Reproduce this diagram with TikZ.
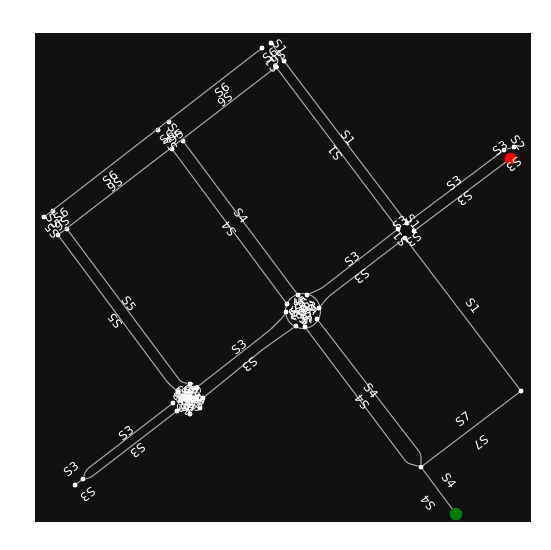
\documentclass[tikz,border=0pt]{standalone}
\usepackage{fontspec}
\setmainfont{DejaVu Sans}
\usetikzlibrary{calc}
\definecolor{bgdark}{HTML}{111111}
\definecolor{edgegray}{HTML}{A0A0A0}
\tikzset{
  dot/.style={circle,fill=white,inner sep=0pt,minimum size=5pt},
  road/.style={draw=edgegray,line width=1.1pt,rounded corners=3pt},
  lbl/.style={text=white,font=\fontsize{12}{12}\selectfont,inner sep=0pt},
  mark end/.style={circle,inner sep=0pt,minimum size=#1}
}
\begin{document}
\begin{tikzpicture}[x=1pt,y=-1pt]
            \useasboundingbox (0,0) rectangle (550,550);
            \fill[white] (0,0) rectangle (550,550);
            \fill[bgdark] (35,33) rectangle (531,522);
            % top
            \node[dot] (ta) at (262,48) {};
            \node[dot] (tb) at (271,43) {};
            \node[dot] (tc) at (284,61) {};
            \node[dot] (td) at (276,67) {};
            % second
            \node[dot] (ua) at (169,122) {};
            \node[dot] (ub) at (158,130) {};
            \node[dot] (uc) at (183,141) {};
            \node[dot] (ud) at (172,149) {};
            % left
            \node[dot] (la) at (53,211) {};
            \node[dot] (lb) at (44,217) {};
            \node[dot] (lc) at (67,229) {};
            \node[dot] (ld) at (58,235) {};
            % center
            \node[circle,draw=edgegray,line width=1.1pt,minimum size=35pt,inner sep=0pt] (cring) at (303,311) {};
            \node[dot] (ca) at (298,295) {};
            \node[dot] (cb) at (307,295) {};
            \node[dot] (cc) at (287,304) {};
            \node[dot] (cd) at (286,312) {};
            \node[dot] (ce) at (319,308) {};
            \node[dot] (cf) at (317,319) {};
            \node[dot] (cg) at (296,326) {};
            \node[dot] (ch) at (305,327) {};
            % lower left
            \node[dot] (pa) at (190,384) {};
            \node[dot] (pb) at (178,392) {};
            \node[dot] (pc) at (173,403) {};
            \node[dot] (pd) at (177,411) {};
            \node[dot] (pe) at (190,414) {};
            \node[dot] (pf) at (200,408) {};
            \node[dot] (pg) at (203,398) {};
            \node[dot] (ph) at (196,388) {};
            % right
            \node[dot] (ra) at (398,229) {};
            \node[dot] (rb) at (407,223) {};
            \node[dot] (rc) at (414,231) {};
            \node[dot] (rd) at (405,238) {};
            % ends
            \node[dot] (ea) at (504,150) {};
            \node[dot] (eb) at (514,147) {};
            \node[dot] (ec) at (521,391) {};
            \node[dot] (ed) at (421,467) {};
            \node[dot] (ee) at (83,479) {};
            \node[dot] (ef) at (75,485) {};
            \node[mark end=12pt,fill=red] (redend) at (510.5,158.5) {};
            \node[mark end=12.5pt,fill=green!50!black] (greenend) at (456,514) {};
            % edges
            \draw[road] (tb)--(tc);
            \draw[road] (ta)--(lb);
            \draw[road] (td)--(ld);
            \draw[road] (tc)--(rb);
            \draw[road] (td)--(ra);
            \draw[road] (rd)--(ec);
            \draw[road] (uc)--(ca);
            \draw[road] (ud)--(cc);
            \draw[road] (lc)--(181,382)--(pa);
            \draw[road] (ld)--(168,383)--(pb);
            \draw[road] (cd)--(283,317)--(270,330)--(ph);
            \draw[road] (cg)--(283,335)--(262,350)--(pg);
            \draw[road] (cb)--(322,288)--(ra);
            \draw[road] (ce)--(328,297)--(rd);
            \draw[road] (cf)--(421,454)--(ed);
            \draw[road] (ch)--(407,463)--(ed);
            \draw[road] (rb)--(ea);
            \draw[road] (rc)--(redend);
            \draw[road] (ea)--(eb);
            \draw[road] (ec)--(ed);
            \draw[road] (ed)--(greenend);
            \draw[road] (pc)--(86,470)--(ee);
            \draw[road] (pd)--(90,478)--(ee);
            \draw[road] (ee)--(ef);
            % edge labels
            \foreach \lx/\ly/\lr/\lt in {348/138/-53/S1,335/153/127/S1,473/306/-53/S1,
              222/90/37/S6,225/100/217/S6,110/178/37/S6,115/185/217/S6,
              241/216/-53/S4,229/229/127/S4,371/391/-53/S4,362/402/127/S4,449/481/-53/S4,428/503/127/S4,
              129/304/-53/S5,115/321/127/S5,
              454/183/37/S3,465/199/217/S3,352/259/37/S3,362/277/217/S3,239/347/37/S3,250/365/217/S3,
              126/433/37/S3,138/451/217/S3,71/469/37/S3,88/495/217/S3,500/148/37/S3,518/143/-53/S2,514/165/217/S3,
              463/419/37/S7,481/443/217/S7}
              \node[lbl,rotate=\lr] at (\lx,\ly) {\lt};
            % junction labels
            \foreach \lx/\ly/\lr/\lt in {280/47/-53/S1,270/55/37/S6,278/58/217/S6,272/65/127/S1,
              175/131/-53/S4,167/137/37/S6,176/137/217/S6,170/144/127/S4,
              61/215/37/S6,53/221/-53/S5,62/224/217/S6,52/231/127/S5,
              400/223/37/S3,413/222/-53/S1,400/239/127/S1,414/240/217/S3}
              \node[lbl,rotate=\lr] at (\lx,\ly) {\lt};
            \foreach \a in {0,30,...,330}{
              \node[lbl,rotate=\a+37] at ($(303,311)+(\a:7)$) {S3};
              \node[lbl,rotate=\a-53] at ($(189,399)+(\a:9)$) {S3};
              \node[lbl,rotate=\a+15] at ($(189,399)+(\a+15:5)$) {S4};
            }
        \end{tikzpicture}
\end{document}
